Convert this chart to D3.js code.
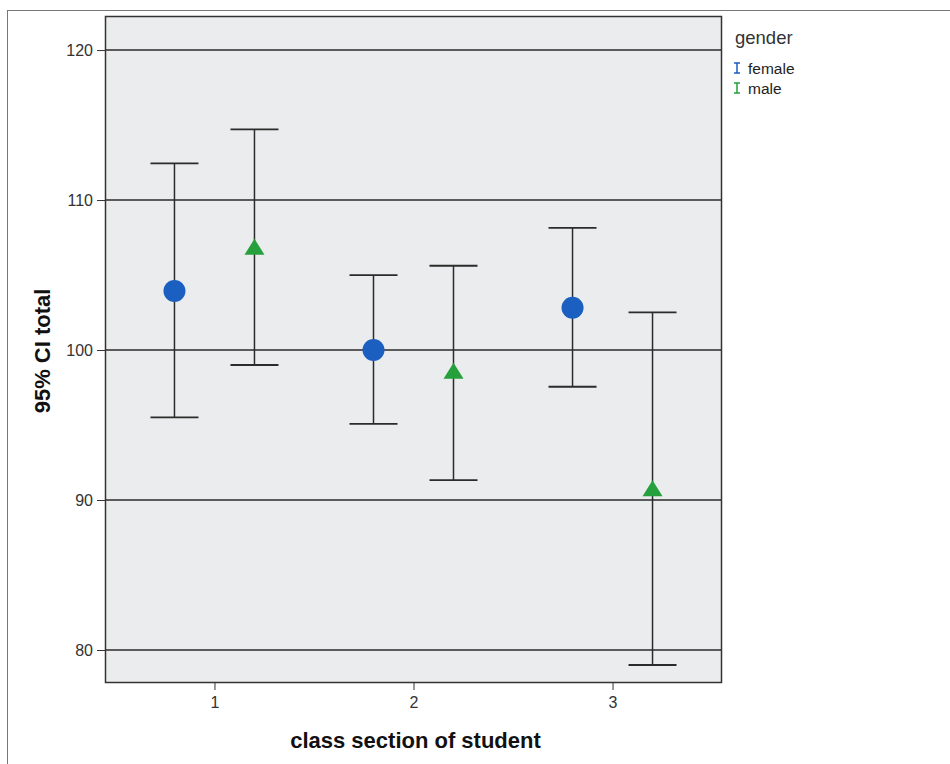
<!DOCTYPE html>
<html>
<head>
<meta charset="utf-8">
<script src="https://cdn.jsdelivr.net/npm/d3@7"></script>
<style>
  html, body { margin: 0; padding: 0; background: #fff; }
  svg { display: block; font-family: "Liberation Sans", Arial, sans-serif; }
</style>
</head>
<body>
<svg id="chart" width="950" height="764"></svg>
<script>
// Class sections and gender groups
const sections = ["1", "2", "3"];
const genders = ["female", "male"];
const genderColors = ["#1b5fc0", "#26a03c"];

// Mean total score and 95% confidence limits, by section (female / male)
const femaleMean  = [103.93, 100.0, 102.82];
const femaleLower = [95.51, 95.07, 97.55];
const femaleUpper = [112.45, 105.0, 108.15];
const maleMean    = [106.89, 98.62, 90.78];
const maleLower   = [99.0, 91.33, 79.0];
const maleUpper   = [114.71, 105.62, 102.51];

const yTicks = [80, 90, 100, 110, 120];

const rows = [];
sections.forEach((s, i) => {
  rows.push({ section: s, gender: "female", mean: femaleMean[i], lo: femaleLower[i], hi: femaleUpper[i] });
  rows.push({ section: s, gender: "male", mean: maleMean[i], lo: maleLower[i], hi: maleUpper[i] });
});

const svg = d3.select("#chart");
const font = "\"Liberation Sans\", Arial, sans-serif";

// Outer frame
svg.append("line").attr("x1", 7.5).attr("x2", 7.5).attr("y1", 10).attr("y2", 764)
  .attr("stroke", "#777").attr("stroke-width", 1);
svg.append("line").attr("x1", 7).attr("x2", 950).attr("y1", 10.5).attr("y2", 10.5)
  .attr("stroke", "#777").attr("stroke-width", 1);

const plot = { left: 105, top: 16, right: 722, bottom: 683 };

const y = d3.scaleLinear().domain([77.8, 122.27]).range([plot.bottom, plot.top]);
const x = d3.scalePoint().domain(sections).range([plot.left, plot.right]).padding(0.55);
const xg = d3.scalePoint().domain(genders).range([-40, 40]);
const color = d3.scaleOrdinal().domain(genders).range(genderColors);
const cx = d => x(d.section) + xg(d.gender);

// Plot background
svg.append("rect")
  .attr("x", plot.left).attr("y", plot.top)
  .attr("width", plot.right - plot.left).attr("height", plot.bottom - plot.top)
  .attr("fill", "#eaeced");

// Horizontal reference lines
svg.append("g").selectAll("line").data(yTicks).join("line")
  .attr("x1", plot.left).attr("x2", plot.right)
  .attr("y1", d => y(d)).attr("y2", d => y(d))
  .attr("stroke", "#2b2b2b").attr("stroke-width", 1.5);

// Y axis
const yAxis = svg.append("g").attr("transform", `translate(${plot.left},0)`)
  .call(d3.axisLeft(y).tickValues(yTicks).tickSize(8).tickPadding(4));
yAxis.select(".domain").remove();
yAxis.selectAll(".tick line").attr("stroke", "#333");
yAxis.selectAll(".tick text").attr("fill", "#333").style("font-size", "16px")
  .style("font-family", font);

// X axis
const xAxis = svg.append("g").attr("transform", `translate(0,${plot.bottom})`)
  .call(d3.axisBottom(x).tickSize(7).tickPadding(7));
xAxis.select(".domain").remove();
xAxis.selectAll(".tick line").attr("stroke", "#333");
xAxis.selectAll(".tick text").attr("fill", "#333").style("font-size", "16px")
  .style("font-family", font);

// Plot frame
svg.append("rect")
  .attr("x", plot.left + 0.5).attr("y", plot.top + 0.5)
  .attr("width", plot.right - plot.left - 1).attr("height", plot.bottom - plot.top - 1)
  .attr("fill", "none").attr("stroke", "#333").attr("stroke-width", 1.5);

// Error bars
const capHalf = 24;
const bars = svg.append("g").selectAll("g").data(rows).join("g");
bars.append("line")
  .attr("x1", cx).attr("x2", cx)
  .attr("y1", d => y(d.hi)).attr("y2", d => y(d.lo))
  .attr("stroke", "#2b2b2b").attr("stroke-width", 1.5);
bars.append("line")
  .attr("x1", d => cx(d) - capHalf).attr("x2", d => cx(d) + capHalf)
  .attr("y1", d => y(d.hi)).attr("y2", d => y(d.hi))
  .attr("stroke", "#2b2b2b").attr("stroke-width", 1.8);
bars.append("line")
  .attr("x1", d => cx(d) - capHalf).attr("x2", d => cx(d) + capHalf)
  .attr("y1", d => y(d.lo)).attr("y2", d => y(d.lo))
  .attr("stroke", "#2b2b2b").attr("stroke-width", 1.8);

// Mean markers: circles for female, triangles for male
bars.filter(d => d.gender === "female").append("circle")
  .attr("cx", cx).attr("cy", d => y(d.mean)).attr("r", 11)
  .attr("fill", d => color(d.gender));
bars.filter(d => d.gender === "male").append("path")
  .attr("d", d => {
    const px = cx(d), py = y(d.mean);
    return `M${px},${py - 8}L${px + 10},${py + 8}L${px - 10},${py + 8}Z`;
  })
  .attr("fill", d => color(d.gender));

// Axis titles
svg.append("text")
  .attr("x", (plot.left + plot.right) / 2 + 2).attr("y", 748)
  .attr("text-anchor", "middle")
  .style("font-size", "22px").style("font-weight", "bold").attr("fill", "#111")
  .text("class section of student");
svg.append("text")
  .attr("transform", `translate(50,${351}) rotate(-90)`)
  .attr("text-anchor", "middle")
  .style("font-size", "22px").style("font-weight", "bold").attr("fill", "#111")
  .text("95% CI total");

// Legend
const legend = svg.append("g").attr("transform", "translate(735,0)");
legend.append("text").attr("x", 0).attr("y", 44)
  .style("font-size", "18.5px").attr("fill", "#333").text("gender");
const items = legend.selectAll("g.item").data(genders).join("g")
  .attr("class", "item")
  .attr("transform", (d, i) => `translate(0,${69 + i * 20})`);
items.append("path")
  .attr("d", "M-1,-6H5M2,-6V4M-1,4H5")
  .attr("stroke", d => color(d)).attr("stroke-width", 1.5).attr("fill", "none");
items.append("text").attr("x", 13).attr("y", 5)
  .style("font-size", "15.5px").attr("fill", "#222").text(d => d);
</script>
</body>
</html>
